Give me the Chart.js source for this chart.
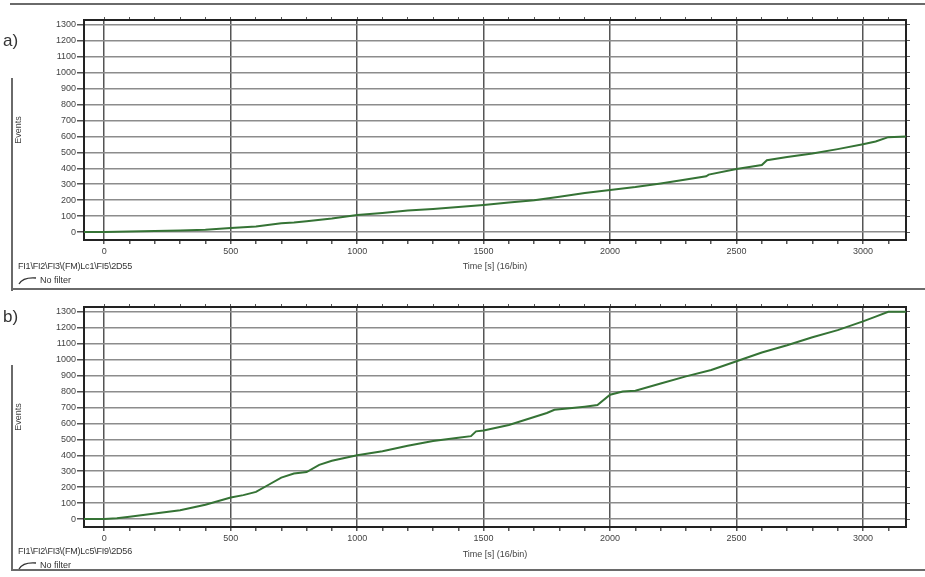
<!DOCTYPE html>
<html>
<head>
<meta charset="utf-8">
<script src="https://cdn.jsdelivr.net/npm/chart.js@4.4.1/dist/chart.umd.min.js"></script>
<style>
  body { margin: 0; background: #fff; width: 925px; height: 577px; position: relative; overflow: hidden; font-family: "Liberation Sans", Arial, sans-serif; }
  canvas { position: absolute; left: 0; }
  #chartA { top: 0; }
  #chartB { top: 289px; }
  .tag { position: absolute; left: 3px; font-size: 17px; color: #333; }
  .src { position: absolute; left: 18px; font-size: 9px; color: #333; letter-spacing: -0.2px; }
  .leg { position: absolute; left: 18px; font-size: 9px; color: #333; }
  .leg svg { vertical-align: -2px; margin-right: 2px; }
  .ln { position: absolute; background: #6a6a6a; }
</style>
</head>
<body>
<canvas id="chartA" width="925" height="289"></canvas>
<canvas id="chartB" width="925" height="288"></canvas>

<div class="ln" style="left:10px;top:3px;width:915px;height:2px"></div>
<div class="ln" style="left:11px;top:78px;width:2px;height:213px"></div>
<div class="ln" style="left:11px;top:288px;width:914px;height:2px"></div>
<div class="ln" style="left:11px;top:365px;width:2px;height:206px"></div>
<div class="ln" style="left:11px;top:569px;width:914px;height:2px"></div>

<div class="tag" style="top:31px">a)</div>
<div class="tag" style="top:307px">b)</div>
<div class="src" style="top:261px">FI1\FI2\FI3\(FM)Lc1\FI5\2D55</div>
<div class="leg" style="top:275px"><svg width="20" height="9"><path d="M1 8 Q5 1 18 2" stroke="#333" stroke-width="1.3" fill="none"/></svg>No filter</div>
<div class="src" style="top:546px">FI1\FI2\FI3\(FM)Lc5\FI9\2D56</div>
<div class="leg" style="top:560px"><svg width="20" height="9"><path d="M1 8 Q5 1 18 2" stroke="#333" stroke-width="1.3" fill="none"/></svg>No filter</div>

<script>
// cumulative event counts
const timeA   = [-80, 0, 100, 200, 300, 400, 500, 600, 700, 750, 800, 900, 1000, 1100, 1200, 1300, 1400, 1500, 1600, 1700, 1800, 1900, 2000, 2100, 2200, 2300, 2380, 2390, 2500, 2600, 2620, 2700, 2800, 2900, 3000, 3050, 3100, 3170];
const eventsA = [0, 0, 3, 6, 9, 14, 25, 35, 55, 60, 68, 85, 107, 120, 135, 145, 157, 170, 185, 200, 222, 245, 264, 282, 305, 330, 350, 360, 395, 420, 450, 470, 492, 520, 550, 568, 595, 600];

const timeB   = [-80, 0, 50, 100, 200, 300, 400, 500, 550, 600, 650, 700, 750, 800, 850, 900, 1000, 1100, 1200, 1300, 1400, 1450, 1470, 1500, 1600, 1700, 1750, 1780, 1900, 1950, 2000, 2050, 2100, 2200, 2300, 2400, 2500, 2600, 2700, 2800, 2900, 3000, 3050, 3100, 3170];
const eventsB = [0, 0, 5, 15, 35, 55, 90, 135, 150, 170, 215, 260, 285, 295, 340, 365, 400, 425, 460, 490, 510, 520, 550, 555, 590, 640, 665, 685, 705, 715, 780, 800, 805, 850, 895, 935, 990, 1045, 1090, 1140, 1185, 1240, 1270, 1300, 1300];

const yTicks = [0, 100, 200, 300, 400, 500, 600, 700, 800, 900, 1000, 1100, 1200, 1300];
const xLabels = [0, 500, 1000, 1500, 2000, 2500, 3000];
const xMinor = [0, 100, 200, 300, 400, 500, 600, 700, 800, 900, 1000, 1100, 1200, 1300, 1400, 1500, 1600, 1700, 1800, 1900, 2000, 2100, 2200, 2300, 2400, 2500, 2600, 2700, 2800, 2900, 3000, 3100];

const FONT = "'Liberation Sans', Arial, sans-serif";

function makeChart(id, times, events, topH, bottomH) {
  const setX = s => { s.ticks = xMinor.map(v => ({ value: v })); };
  const setY = s => { s.ticks = yTicks.map(v => ({ value: v })); };

  return new Chart(document.getElementById(id), {
    type: "line",
    data: {
      datasets: [{
        data: times.map((t, i) => ({ x: t, y: events[i] })),
        borderColor: "#357335",
        borderWidth: 2,
        pointRadius: 0,
        tension: 0,
        fill: false,
      }],
    },
    options: {
      responsive: false,
      animation: false,
      layout: { padding: { left: 12 } },
      plugins: { legend: { display: false }, tooltip: { enabled: false } },
      scales: {
        x: {
          type: "linear", position: "bottom", min: -80, max: 3170,
          afterBuildTicks: setX,
          afterFit: s => { s.height = bottomH; },
          ticks: {
            autoSkip: false, maxRotation: 0, padding: 2, color: "#444",
            font: { size: 9, family: FONT },
            callback: v => (xLabels.includes(v) ? String(v) : ""),
          },
          grid: {
            color: c => (c.tick && xLabels.includes(c.tick.value) ? "#555" : "rgba(0,0,0,0)"),
            lineWidth: 1.5, tickColor: "#555", tickLength: 4,
          },
          border: { color: "#222", width: 2 },
          title: {
            display: true, text: "Time [s] (16/bin)", color: "#444",
            font: { size: 9, family: FONT }, padding: { bottom: 17 },
          },
        },
        x2: {
          type: "linear", position: "top", min: -80, max: 3170,
          afterBuildTicks: setX,
          afterFit: s => { s.height = topH; },
          ticks: { display: false },
          grid: { drawOnChartArea: false, tickColor: "#555", tickLength: 3 },
          border: { color: "#222", width: 2 },
        },
        y: {
          type: "linear", position: "left", min: -50, max: 1330,
          afterBuildTicks: setY,
          afterFit: s => { s.width = 72; },
          ticks: { padding: 1, color: "#444", font: { size: 9, family: FONT }, callback: v => String(v) },
          grid: { color: "#8c8c8c", lineWidth: 1.5, tickColor: "#555", tickLength: 7 },
          border: { color: "#222", width: 2 },
          title: {
            display: true, text: "Events", color: "#444",
            font: { size: 9, family: FONT }, padding: { top: 1 },
          },
        },
        y2: {
          type: "linear", position: "right", min: -50, max: 1330,
          afterBuildTicks: setY,
          afterFit: s => { s.width = 19; },
          ticks: { display: false },
          grid: { drawOnChartArea: false, tickColor: "#555", tickLength: 4 },
          border: { color: "#222", width: 2 },
        },
      },
    },
  });
}

makeChart("chartA", timeA, eventsA, 20, 49);
makeChart("chartB", timeB, eventsB, 18, 50);
</script>
</body>
</html>
